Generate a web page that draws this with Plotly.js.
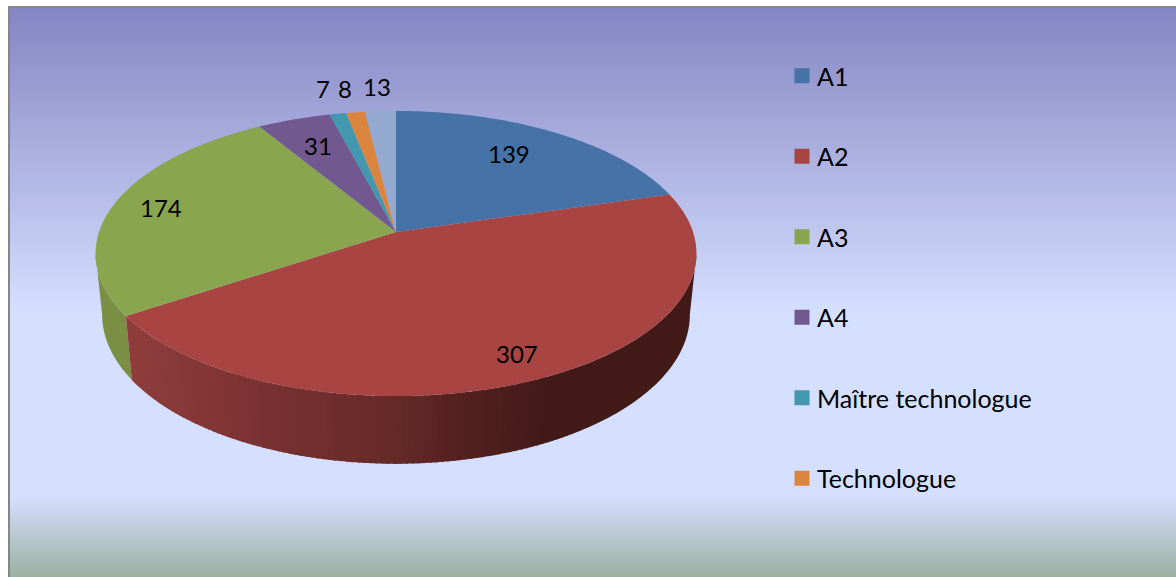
<!DOCTYPE html>
<html>
<head>
<meta charset="utf-8">
<script src="https://cdn.plot.ly/plotly-3.0.1.min.js"></script>
<style>
html,body{margin:0;padding:0;width:1176px;height:577px;overflow:hidden;background:#fff}
#bg{position:absolute;left:8px;top:6px;width:1168px;height:571px;box-sizing:border-box;
border-left:2px solid #868686;border-top:2px solid #868686;
background:linear-gradient(to bottom,#8585c3 0px,#d5dfff 305px,#d5dfff 488px,#9bb0a0 569px)}
#chart{position:absolute;left:0;top:0;width:1176px;height:577px}
</style>
</head>
<body>
<div id="bg"></div>
<div id="chart"></div>
<script>
// ---- data ----
const categories = ["A1","A2","A3","A4","Maître technologue","Technologue","Autres"];
const counts = [139,307,174,31,7,8,13];
const colors = ["#4572A7","#A84543","#89A54E","#71588F","#4198AF","#DB843D","#93A9CF"];
const legendCategories = 6;

// ---- label placement (pixels of the page) ----
const labelX = [509,517,161,318,323,345,377];
const labelY = [153,353,207,145,88,88,86];

// ---- projected disc geometry ----
const cx = 396, K = 0.151;
const topDisc = {A:297, B:139.3, y0:232};
const botDisc = {A:290.5, B:145.8, y0:292};
const FONT = "Lato, Carlito, Calibri, sans-serif";

const total = counts.reduce((a,b)=>a+b,0);
function proj(deg,d){
  const t = deg*Math.PI/180, u = Math.sin(t), v = Math.cos(t), w = 1+K*v;
  return [cx+d.A*u/w, d.y0-d.B*v/w];
}
function arc(a,b,d){
  const n = Math.max(2,Math.ceil(Math.abs(b-a))), out=[];
  for(let i=0;i<=n;i++) out.push(proj(a+(b-a)*i/n,d));
  return out;
}
const redStops = [[125,[145,62,60]],[280,[119,48,48]],[400,[100,42,39]],[460,[85,32,30]],[540,[66,27,25]],[700,[66,27,25]]];
function stopColor(stops,x){
  if(x<=stops[0][0]) return "rgb("+stops[0][1].join(",")+")";
  for(let i=1;i<stops.length;i++){
    if(x<=stops[i][0]){
      const p=(x-stops[i-1][0])/(stops[i][0]-stops[i-1][0]);
      return "rgb("+stops[i-1][1].map((c0,k)=>Math.round(c0+(stops[i][1][k]-c0)*p)).join(",")+")";
    }
  }
  return "rgb("+stops[stops.length-1][1].join(",")+")";
}

// slice boundaries in degrees, clockwise from 12 o'clock
const starts=[]; let cum=0;
counts.forEach(c=>{starts.push(cum/total*360); cum+=c;});
const ends = starts.map((s,i)=>s+counts[i]/total*360);

const traces=[];
function poly(pts,color){
  traces.push({type:"scatter",mode:"none",fill:"toself",fillcolor:color,
    x:pts.map(p=>p[0]),y:pts.map(p=>p[1]),hoverinfo:"skip",showlegend:false});
}
// side wall, painted from the back towards the viewer;
// the silhouette tangents sit where the disc is widest (sin = K off the horizontal)
const tangent = Math.asin(K)*180/Math.PI;
function wallStrip(a,b,color){
  poly(arc(a,b,topDisc).concat(arc(b,a,botDisc)),color);
}
const front=180, a2End=ends[1], darkEnd=148;
wallStrip(90+tangent,darkEnd+0.4,"rgb(66,27,25)");
for(let a=darkEnd;a<front;a+=1){
  wallStrip(a,Math.min(a+1.4,front+0.5),stopColor(redStops,proj(a+0.5,botDisc)[0]));
}
wallStrip(270-tangent,a2End,"#7a8f43");
for(let a=a2End;a>front;a-=1){
  wallStrip(Math.max(a-1.4,front-0.5),a,stopColor(redStops,proj(a-0.5,botDisc)[0]));
}
// top face: one wedge per category
categories.forEach((c,i)=>{
  poly([[cx,topDisc.y0]].concat(arc(starts[i],ends[i],topDisc)),colors[i]);
});
// legend keys
categories.slice(0,legendCategories).forEach((c,i)=>{
  traces.push({type:"scatter",mode:"markers",name:c,x:[null],y:[null],legendgroup:"g"+i,
    marker:{symbol:"square",size:15,color:colors[i]},hoverinfo:"skip"});
});

const annotations=counts.map((v,i)=>({
  text:String(v),x:labelX[i],y:labelY[i],xref:"x",yref:"y",showarrow:false,
  font:{family:FONT,size:24,color:"#000"},xanchor:"center",yanchor:"middle"
}));

const layout={
  width:1176,height:577,margin:{l:0,r:0,t:0,b:0},
  paper_bgcolor:"rgba(0,0,0,0)",plot_bgcolor:"rgba(0,0,0,0)",
  xaxis:{range:[0,1176],visible:false,fixedrange:true},
  yaxis:{range:[577,0],visible:false,fixedrange:true},
  showlegend:true,
  legend:{x:782/1176,y:1-53/577,xanchor:"left",yanchor:"top",bgcolor:"rgba(0,0,0,0)",
    font:{family:FONT,size:25,color:"#000"},tracegroupgap:45,itemclick:false,itemdoubleclick:false},
  annotations
};
Plotly.newPlot("chart",traces,layout,{displayModeBar:false,staticPlot:true}).then(gd=>{
  gd.querySelectorAll(".legendtext").forEach(t=>t.setAttribute("x",35));
});
</script>
</body>
</html>
